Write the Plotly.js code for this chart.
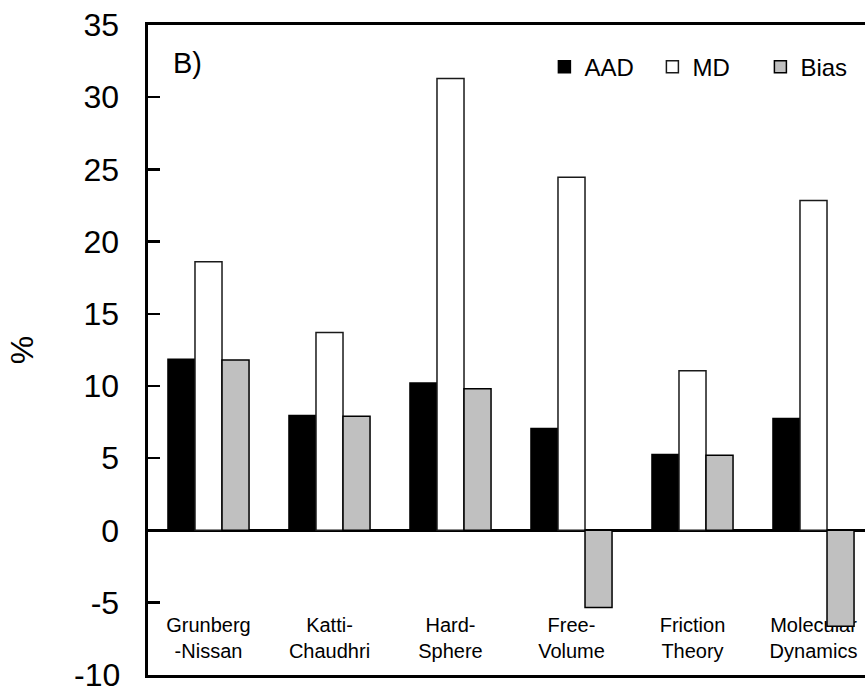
<!DOCTYPE html>
<html>
<head>
<meta charset="utf-8">
<script src="https://cdn.plot.ly/plotly-3.0.1.min.js"></script>
<style>
  html, body { margin: 0; padding: 0; overflow: hidden; background: #fff; }
  #chart { width: 875px; height: 692px; }
</style>
</head>
<body>
<div id="chart"></div>
<script>
// ---- data ----
const categories = ["Grunberg<br>-Nissan", "Katti-<br>Chaudhri", "Hard-<br>Sphere", "Free-<br>Volume", "Friction<br>Theory", "Molecular<br>Dynamics"];
const aadValues  = [11.85, 7.95, 10.2, 7.05, 5.25, 7.75];
const mdValues   = [18.6, 13.7, 31.3, 24.45, 11.05, 22.85];
const biasValues = [11.8, 7.9, 9.8, -5.35, 5.2, -6.65];
const seriesNames = ["AAD", "MD", "Bias"];
const yTickValues = [-10, -5, 0, 5, 10, 15, 20, 25, 30, 35];
const yBottomValue = -10;

const FONT = "Liberation Sans, Arial, Helvetica, sans-serif";

const traces = [
  { type: "bar", name: seriesNames[0], x: categories, y: aadValues,
    marker: { color: "#000000", line: { color: "#000000", width: 1.5 } } },
  { type: "bar", name: seriesNames[1], x: categories, y: mdValues,
    marker: { color: "#ffffff", line: { color: "#1a1a1a", width: 1.5 } } },
  { type: "bar", name: seriesNames[2], x: categories, y: biasValues,
    marker: { color: "#c0c0c0", line: { color: "#000000", width: 1.5 } } }
];

const layout = {
  width: 875, height: 692,
  margin: { l: 148, r: 1, t: 25, b: 17, pad: 0, autoexpand: false },
  paper_bgcolor: "#ffffff", plot_bgcolor: "#ffffff",
  font: { family: FONT, color: "#000000" },
  barmode: "group", bargap: 0.33, bargroupgap: 0,
  showlegend: true,
  legend: {
    orientation: "h", x: 0.546, xanchor: "left", y: 0.935, yanchor: "middle",
    entrywidth: 63, entrywidthmode: "pixels",
    font: { family: FONT, size: 24, color: "#000" },
    bgcolor: "rgba(0,0,0,0)", borderwidth: 0, traceorder: "normal"
  },
  xaxis: {
    type: "category",
    showline: true, linecolor: "#000", linewidth: 3, mirror: true,
    showgrid: false, zeroline: false,
    ticks: "", ticklabelposition: "inside", ticklabelstandoff: 14,
    tickfont: { family: FONT, size: 20, color: "#000" },
    layer: "below traces", fixedrange: true
  },
  yaxis: {
    range: [yBottomValue - 0.02, 35], tickvals: yTickValues, ticktext: yTickValues.map(String),
    showline: true, linecolor: "#000", linewidth: 3.5, mirror: true,
    showgrid: false,
    zeroline: true, zerolinecolor: "#000", zerolinewidth: 2.5,
    ticks: "inside", ticklen: 12, tickwidth: 2.5, tickcolor: "#000",
    ticklabelstandoff: 19, ticklabeloverflow: "allow",
    tickfont: { family: FONT, size: 32, color: "#000" },
    title: { text: "%", font: { family: FONT, size: 32, color: "#000" }, standoff: 30 },
    fixedrange: true
  },
  annotations: [
    { text: "B)", xref: "paper", yref: "paper", x: 0.031, y: 0.9415,
      xanchor: "left", yanchor: "middle", showarrow: false,
      font: { family: FONT, size: 29, color: "#000" } },
    // bottom tick label (Plotly hides it next to the inside category labels)
    { text: String(yBottomValue), xref: "paper", yref: "y", x: 0, y: yBottomValue,
      xanchor: "right", yanchor: "middle", xshift: -26, showarrow: false,
      font: { family: FONT, size: 32, color: "#000" } }
  ]
};

Plotly.newPlot("chart", traces, layout, { displayModeBar: false, staticPlot: true });
</script>
</body>
</html>
